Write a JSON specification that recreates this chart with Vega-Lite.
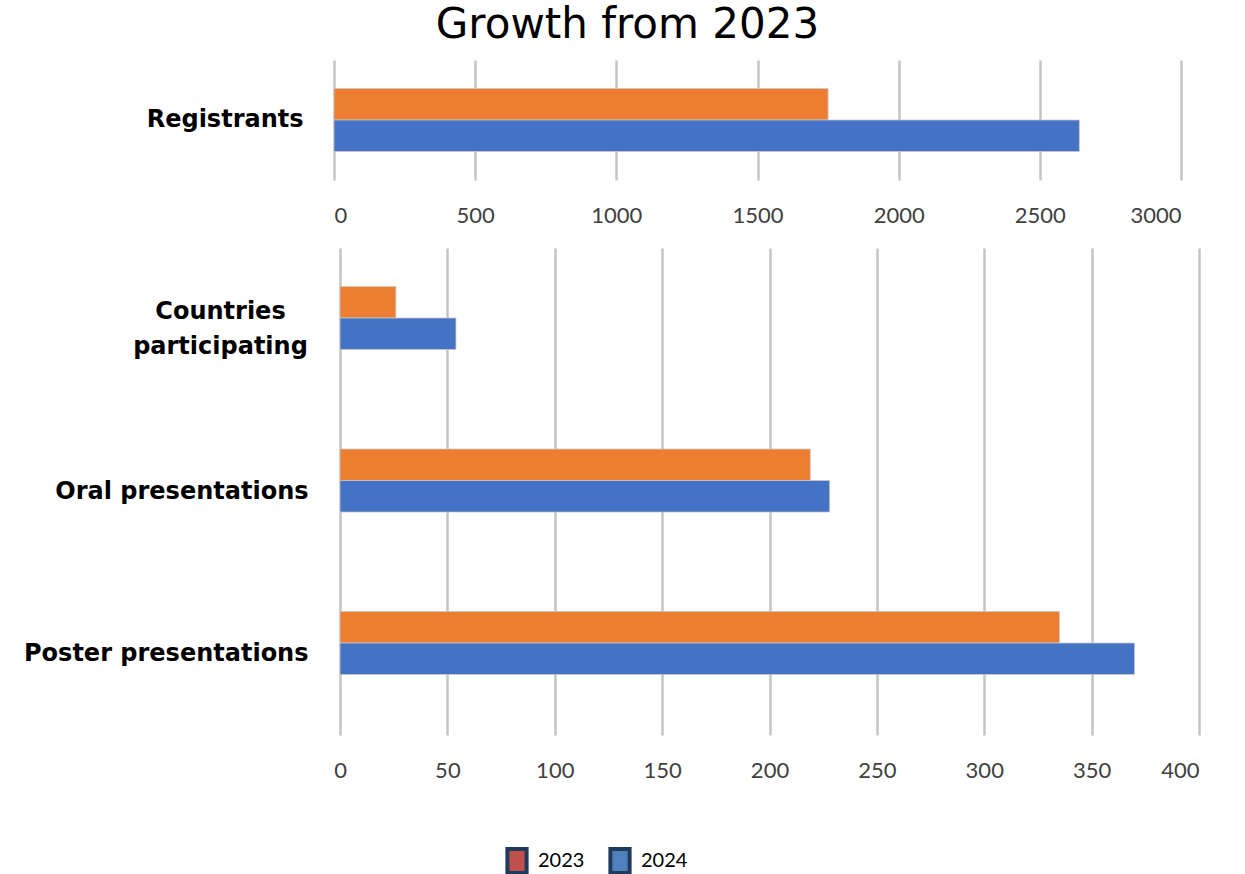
{
  "$schema": "https://vega.github.io/schema/vega-lite/v6.json",
  "padding": {"left": 20, "top": 4, "right": 10, "bottom": 0},
  "title": {
    "text": "Growth from 2023",
    "font": "DejaVu Sans",
    "fontSize": 42,
    "fontWeight": "normal",
    "color": "#000000",
    "anchor": "middle",
    "frame": "bounds",
    "offset": 13,
    "dx": 18
  },
  "spacing": 22,
  "resolve": {"scale": {"fill": "independent", "color": "independent"}, "legend": {"fill": "independent", "color": "independent"}},
  "datasets": {
    "d": [
      {"Metric": "Registrants", "Year": "2023", "Value": 1750},
      {"Metric": "Registrants", "Year": "2024", "Value": 2640},
      {"Metric": "Countries participating", "Year": "2023", "Value": 26},
      {"Metric": "Countries participating", "Year": "2024", "Value": 54},
      {"Metric": "Oral presentations", "Year": "2023", "Value": 219},
      {"Metric": "Oral presentations", "Year": "2024", "Value": 228},
      {"Metric": "Poster presentations", "Year": "2023", "Value": 335},
      {"Metric": "Poster presentations", "Year": "2024", "Value": 370}
    ]
  },
  "vconcat": [
    {
      "width": 847,
      "height": 120,
      "data": {"name": "d"},
      "transform": [{"filter": "datum.Metric == 'Registrants'"}],
      "mark": {"type": "bar", "stroke": "#c8c8c8", "strokeWidth": 0.8},
      "encoding": {
        "y": {
          "field": "Metric", "type": "nominal", "title": null,
          "scale": {"paddingInner": 0, "paddingOuter": 0.452},
          "axis": {"labelPadding": 31, "minExtent": 314, "maxExtent": 314}
        },
        "yOffset": {"field": "Year", "type": "nominal", "sort": ["2023", "2024"], "scale": {"paddingInner": 0, "paddingOuter": 0}},
        "x": {
          "field": "Value", "type": "quantitative", "title": null,
          "scale": {"domain": [0, 3000], "nice": false},
          "axis": {"values": [0, 500, 1000, 1500, 2000, 2500, 3000], "format": "d", "minExtent": 46, "maxExtent": 46}
        },
        "color": {
          "field": "Year", "type": "nominal", "legend": null, "sort": "ascending",
          "scale": {"range": ["#ED7D31", "#4472C4"]}
        }
      }
    },
    {
      "width": 865,
      "height": 487,
      "data": {"name": "d"},
      "transform": [{"filter": "datum.Metric != 'Registrants'"}],
      "encoding": {
        "y": {
          "field": "Metric", "type": "nominal", "title": null,
          "sort": ["Countries participating", "Oral presentations", "Poster presentations"],
          "scale": {"paddingInner": 0.477, "paddingOuter": 0.237},
          "axis": {
            "labelPadding": {"condition": {"test": "datum.value == 'Countries participating'", "value": 114}, "value": 26},
            "labelAlign": {"condition": {"test": "datum.value == 'Countries participating'", "value": "center"}, "value": "right"},
            "minExtent": 314, "maxExtent": 314,
            "labelExpr": "datum.value == 'Countries participating' ? ['Countries', 'participating'] : datum.value",
            "labelLineHeight": 35,
            "labelOffset": {"condition": {"test": "datum.value == 'Countries participating'", "value": -17}, "value": 0}
          }
        },
        "x": {
          "field": "Value", "type": "quantitative", "title": null,
          "scale": {"domain": [-2.8, 400], "nice": false, "zero": false},
          "axis": {"values": [0, 50, 100, 150, 200, 250, 300, 350, 400], "format": "d"}
        }
      },
      "layer": [
        {
          "mark": {"type": "bar", "stroke": "#c8c8c8", "strokeWidth": 0.8},
          "encoding": {
            "yOffset": {"field": "Year", "type": "nominal", "sort": ["2023", "2024"], "scale": {"paddingInner": 0, "paddingOuter": 0}},
            "x2": {"datum": 0},
            "color": {
              "field": "Year", "type": "nominal", "legend": null, "sort": "ascending",
              "scale": {"range": ["#ED7D31", "#4472C4"]}
            }
          }
        },
        {
          "mark": {"type": "square", "size": 0, "opacity": 1},
          "encoding": {
            "fill": {
              "field": "Year", "type": "nominal",
              "scale": {"domain": ["2023", "2024"], "range": ["#C0504D", "#4F81BD"]},
              "legend": {
                "title": null,
                "orient": "none",
                "direction": "horizontal",
                "legendX": 169,
                "legendY": 599,
                "padding": 0,
                "symbolType": "M-0.8,-1H0.8V1H-0.8Z",
                "symbolSize": 576,
                "symbolStrokeColor": "#1F3A5A",
                "symbolStrokeWidth": 4,
                "symbolOpacity": 1,
                "labelFont": "Lato",
                "labelFontSize": 20,
                "labelColor": "#000000",
                "labelOffset": 7,
                "columnPadding": 17
              }
            }
          }
        }
      ]
    }
  ],
  "config": {
    "view": {"stroke": null},
    "axisX": {
      "domain": false, "ticks": false, "grid": true,
      "gridColor": "#c4c4c4", "gridWidth": 2.5,
      "labelFont": "Lato", "labelFontSize": 22, "labelColor": "#404040",
      "labelPadding": 25
    },
    "axisY": {
      "domain": false, "ticks": false, "grid": false,
      "labelFont": "DejaVu Sans", "labelFontWeight": "bold", "labelFontSize": 24,
      "labelColor": "#000000", "labelLimit": 400
    }
  }
}
